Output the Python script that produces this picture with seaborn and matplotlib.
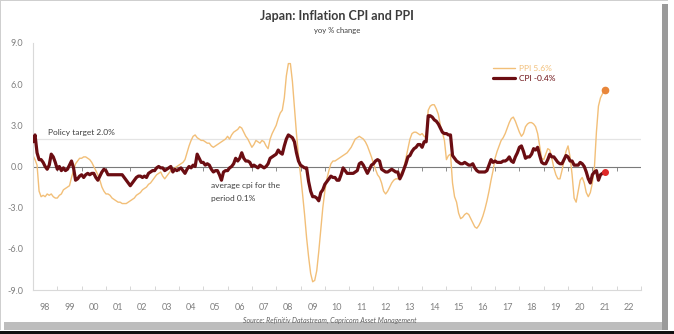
import matplotlib
matplotlib.use("Agg")
import matplotlib.pyplot as plt
from matplotlib.patches import Rectangle
import seaborn as sns
import numpy as np
import pandas as pd

# ---- data (monthly, Jan 1998 .. Jul 2021) ----
start_year = 1998
cpi = [
    1.8, 2.3, 1.0, 0.5, 0.5, 0.3, 0.0, -0.2, 0.1, 0.9, 0.7, 0.3,          # 1998
    -0.2, 0.0, -0.3, -0.1, -0.3, -0.2, 0.1, 0.4, -0.1, -1.0, -0.9, -0.7,  # 1999
    -0.6, -0.8, -0.6, -0.5, -0.6, -0.5, -0.5, -0.8, -1.0, -0.7, -0.4, -0.2,  # 2000
    -0.3, -0.6, -0.6, -0.6, -0.6, -0.6, -0.6, -0.6, -0.6, -0.8, -1.0, -1.2,  # 2001
    -1.4, -1.2, -1.0, -0.8, -0.7, -0.7, -0.8, -0.7, -0.8, -0.5, -0.4, -0.3,  # 2002
    -0.3, -0.1, 0.0, -0.1, -0.1, -0.3, -0.2, -0.1, 0.0, -0.4, -0.2, -0.3,    # 2003
    -0.2, -0.1, -0.3, -0.5, -0.2, 0.0, -0.1, 0.1, 0.0, 0.9, 0.6, 0.3,        # 2004
    0.3, 0.1, 0.2, 0.1, -0.2, -0.4, -0.3, -0.3, -0.6, -1.0, -0.4, -0.3,      # 2005
    -0.3, -0.1, 0.0, 0.2, 0.6, 0.4, 0.6, 1.0, 0.6, 0.4, 0.4, 0.3,            # 2006
    0.0, 0.1, 0.0, -0.1, 0.1, 0.0, -0.1, 0.0, 0.2, 0.6, 0.7, 0.8,            # 2007
    0.9, 1.2, 1.0, 0.9, 1.5, 2.0, 2.3, 2.2, 2.1, 1.8, 1.0, 0.4,              # 2008
    0.1, 0.0, -0.1, -0.1, -1.1, -1.8, -2.2, -2.2, -2.3, -2.5, -1.9, -1.7,    # 2009
    -1.3, -1.1, -0.9, -0.7, -0.8, -0.8, -1.0, -1.0, -0.6, -0.1, -0.3, -0.5,  # 2010
    -0.5, -0.5, -0.5, -0.4, -0.3, 0.2, 0.3, 0.1, -0.2, -0.5, -0.2, 0.1,      # 2011
    0.2, 0.4, 0.5, 0.4, -0.2, -0.3, -0.4, -0.4, -0.3, -0.2, -0.3, -0.4,      # 2012
    -0.4, -0.9, -0.6, -0.2, 0.2, 0.7, 0.8, 1.1, 1.3, 1.4, 1.6, 1.6,          # 2013
    1.4, 1.8, 1.8, 3.7, 3.7, 3.6, 3.4, 3.3, 3.1, 2.8, 2.5, 2.4,              # 2014
    2.4, 2.3, 2.3, 0.8, 0.6, 0.4, 0.3, 0.2, 0.2, 0.3, 0.2, 0.1,              # 2015
    0.1, 0.2, -0.1, -0.3, -0.4, -0.4, -0.4, -0.4, -0.3, 0.1, 0.5, 0.3,       # 2016
    0.4, 0.3, 0.3, 0.3, 0.4, 0.4, 0.5, 0.7, 0.4, 0.3, 0.7, 1.0,              # 2017
    1.4, 1.5, 1.1, 0.6, 0.7, 0.7, 0.9, 1.3, 1.2, 1.4, 0.8, 0.3,              # 2018
    0.2, 0.2, 0.5, 0.9, 0.7, 0.7, 0.5, 0.3, 0.2, 0.2, 0.5, 0.8,              # 2019
    0.7, 0.4, 0.4, 0.1, 0.1, 0.1, 0.3, 0.2, 0.0, -0.4, -0.9, -1.2,           # 2020
    -0.6, -0.4, -0.3, -1.0, -0.6, -0.5, -0.4,                                # 2021
]
ppi = [
    0.8, 0.5, 0.1, -1.8, -2.2, -2.1, -2.2, -2.0, -2.1, -2.0, -2.2, -2.3,     # 1998
    -2.3, -2.1, -2.0, -1.7, -1.6, -1.5, -1.4, -0.8, -0.3, 0.2, 0.4, 0.6,     # 1999
    0.6, 0.7, 0.7, 0.6, 0.5, 0.3, 0.0, -0.3, -0.6, -1.0, -1.5, -1.8,         # 2000
    -2.0, -2.0, -2.1, -2.3, -2.4, -2.5, -2.6, -2.6, -2.7, -2.7, -2.7, -2.6,  # 2001
    -2.5, -2.4, -2.3, -2.1, -2.0, -1.9, -1.7, -1.6, -1.5, -1.3, -1.2, -1.0,  # 2002
    -0.8, -0.6, -0.5, -0.4, -0.7, -0.9, -0.7, -0.5, -0.3, -0.2, -0.1, 0.0,   # 2003
    0.1, 0.2, 0.3, 0.5, 1.0, 1.5, 1.9, 2.2, 2.3, 2.1, 2.0, 1.9,              # 2004
    1.9, 1.8, 1.7, 1.7, 1.5, 1.4, 1.5, 1.6, 1.7, 1.8, 1.9, 2.0,              # 2005
    2.2, 2.0, 2.3, 2.5, 2.6, 2.7, 2.9, 2.8, 2.5, 2.2, 2.0, 1.7,              # 2006
    1.4, 1.6, 1.9, 1.8, 1.7, 1.9, 1.8, 1.5, 1.3, 2.0, 2.4, 2.7,              # 2007
    3.0, 3.5, 3.9, 4.1, 5.0, 6.6, 7.5, 7.5, 6.2, 4.3, 2.4, 0.8,              # 2008
    -0.6, -2.0, -3.5, -5.2, -6.6, -7.8, -8.4, -8.3, -7.6, -6.2, -4.6, -3.0,  # 2009
    -1.8, -0.9, -0.3, 0.2, 0.4, 0.4, 0.5, 0.6, 0.7, 0.8, 0.9, 1.0,           # 2010
    1.2, 1.4, 1.7, 2.0, 2.1, 2.2, 2.1, 2.0, 1.8, 1.5, 1.1, 0.7,              # 2011
    0.2, -0.2, -0.6, -0.8, -1.2, -1.8, -2.0, -1.8, -1.5, -1.2, -1.0, -0.9,   # 2012
    -0.9, -0.6, -0.4, -0.1, 0.6, 1.3, 2.0, 2.4, 2.5, 2.5, 2.4, 2.3,          # 2013
    2.4, 2.2, 2.1, 4.1, 4.4, 4.5, 4.5, 4.2, 3.8, 3.0, 2.5, 1.9,              # 2014
    0.5, 0.8, 0.9, -1.2, -2.2, -2.6, -3.4, -3.8, -3.7, -3.5, -3.4, -3.5,     # 2015
    -3.8, -4.1, -4.4, -4.5, -4.3, -4.0, -3.6, -3.1, -2.5, -1.8, -1.0, -0.3,  # 2016
    0.6, 1.1, 1.5, 1.9, 2.1, 2.4, 2.8, 3.2, 3.5, 3.6, 3.3, 2.9,              # 2017
    2.5, 2.2, 2.4, 2.9, 3.1, 3.2, 3.2, 3.1, 2.9, 2.4, 1.5, 0.6,              # 2018
    0.5, 0.9, 1.3, 1.2, 0.6, -0.1, -0.6, -0.9, -0.9, -0.3, 0.4, 1.1,         # 2019
    1.5, 0.7, -0.6, -2.3, -2.6, -1.8, -1.0, -0.8, -1.2, -1.9, -2.2, -1.9,    # 2020
    -1.2, -0.1, 2.5, 4.4, 5.0, 5.3, 5.6,                                     # 2021
]
year_labels = ["98", "99", "00", "01", "02", "03", "04", "05", "06", "07", "08",
               "09", "10", "11", "12", "13", "14", "15", "16", "17", "18", "19",
               "20", "21", "22"]
policy_target = 2.0
avg_cpi = 0.1

# ---- frame ----
W, H = 674, 334
sns.set_theme(style="white")
plt.rcParams['font.family'] = ['Lato', 'DejaVu Sans']

fig = plt.figure(figsize=(W / 100, H / 100), dpi=100)
fig.patch.set_facecolor("white")

def px_rect(x0, y0, x1, y1, color, z=0):
    fig.patches.append(Rectangle((x0 / W, 1 - y1 / H), (x1 - x0) / W, (y1 - y0) / H,
                                 transform=fig.transFigure, facecolor=color,
                                 edgecolor="none", zorder=z))

# shadow / border like the reference
px_rect(4, 322, 668, 330, "#bdbdbd")
px_rect(662, 4, 668, 330, "#9a9a9a")
px_rect(0, 331, 674, 334, "#111111")
px_rect(0, 0, 1, 330, "#cfcfcf")
px_rect(0, 0, 668, 1, "#cfcfcf")

ax = fig.add_axes([33 / W, 1 - 290 / H, (641 - 33) / W, (290 - 43) / H])
ax.set_facecolor("none")

n = len(cpi)
t = start_year + np.arange(n) / 12.0
df = pd.DataFrame({"t": np.concatenate([t, t]),
                   "value": cpi + ppi,
                   "series": ["CPI"] * n + ["PPI"] * n})

cpi_col = "#6b0d12"
ppi_col = "#f2bf78"

ax.axhline(policy_target, color="#e4e4e4", lw=0.9, zorder=1)
ax.axhline(0, color="#7a7a7a", lw=0.8, zorder=1)
yrs = np.arange(start_year + 1, start_year + len(year_labels))
ax.vlines(yrs, -0.3, 0, color="#7a7a7a", lw=0.6, zorder=1)

sns.lineplot(data=df[df.series == "PPI"], x="t", y="value", color=ppi_col,
             lw=1.0, ax=ax, zorder=2, label=f"PPI {ppi[-1]:.1f}%")
sns.lineplot(data=df[df.series == "CPI"], x="t", y="value", color=cpi_col,
             lw=2.3, ax=ax, zorder=3, label=f"CPI {cpi[-1]:.1f}%")
ax.plot([t[-1]], [ppi[-1]], "o", color="#e8863a", ms=4.5, zorder=4)
ax.plot([t[-1]], [cpi[-1]], "o", color="#e02828", ms=4, zorder=4)

ax.set_xlim(start_year, start_year + len(year_labels))
ax.set_ylim(-9, 9)
ax.set_xlabel("")
ax.set_ylabel("")

ax.set_yticks(np.arange(-9, 10, 3))
ax.set_yticklabels([f"{v:.1f}" for v in np.arange(-9, 10, 3)])
ax.set_xticks(start_year + 0.5 + np.arange(len(year_labels)))
ax.set_xticklabels(year_labels)
ax.set_xticks(np.arange(start_year, start_year + len(year_labels) + 1), minor=True)
ax.tick_params(axis="y", length=0, pad=7, labelsize=6.5, labelcolor="#808080")
ax.tick_params(axis="x", which="major", length=0, pad=9, labelsize=6.5, labelcolor="#808080")
ax.tick_params(axis="x", which="minor", length=3, width=0.6, color="#d0d0d0", direction="in", bottom=True)

for s in ["top", "right"]:
    ax.spines[s].set_visible(False)
for s in ["left", "bottom"]:
    ax.spines[s].set_color("#d9d9d9")
    ax.spines[s].set_linewidth(0.8)

leg = ax.legend(handles=ax.get_lines()[0:0] or None, loc="upper left",
                bbox_to_anchor=((490 - 33) / 608, (290 - 62) / 247),
                frameon=False, fontsize=6, handlelength=2.6, handletextpad=0.5,
                labelspacing=0.35, borderaxespad=0)
for txt, col in zip(leg.get_texts(), [ppi_col, cpi_col]):
    txt.set_color(col)

ax.text(1998.6, policy_target + 0.25, f"Policy target {policy_target:.1f}%",
        fontsize=6, color="#404040", va="bottom", ha="left")
ax.text(2005.3, -1.35, "average cpi for the", fontsize=6, color="#404040",
        va="center", ha="left")
ax.text(2005.3, -2.3, f"period {avg_cpi:.1f}%", fontsize=6, color="#404040",
        va="center", ha="left")

fig.text(337 / W, 1 - 16 / H, "Japan: Inflation CPI and PPI", ha="center", va="center",
         fontsize=9, fontweight="bold", color="#3c3c3c")
fig.text(337 / W, 1 - 31 / H, "yoy % change", ha="center", va="center",
         fontsize=5.5, color="#404040")
fig.text(330 / W, 1 - 320 / H, "Source: Refinitiv Datastream, Capricorn Asset Management",
         ha="center", va="center", fontsize=5, style="italic", color="#606060")

fig.savefig("out.png", dpi=100)
